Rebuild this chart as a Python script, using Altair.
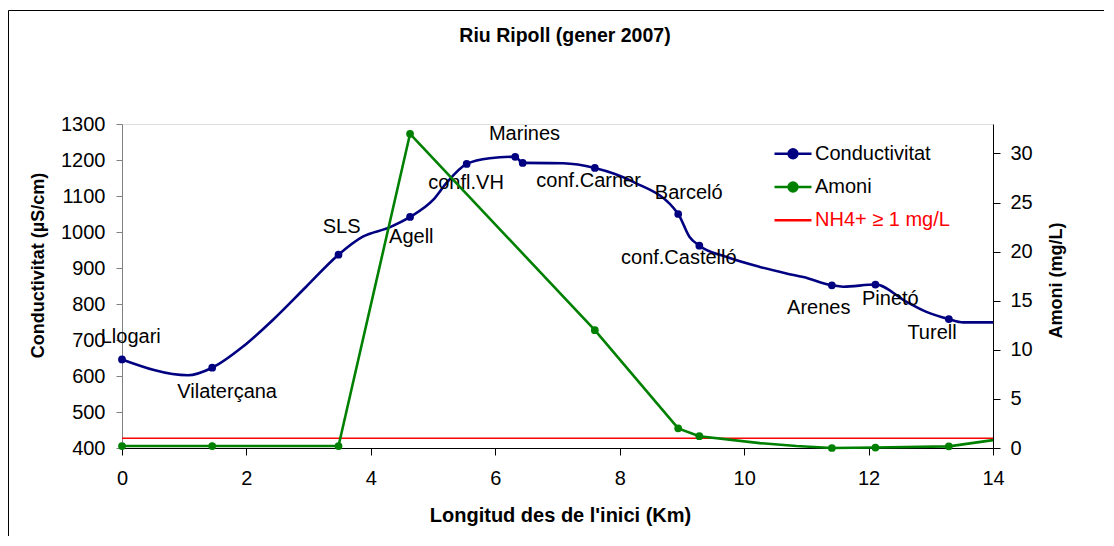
import altair as alt
import pandas as pd

# ---------------- data ----------------
# Conductivity curve (km from the source, µS/cm); marker flag = 1 where a dot is drawn
cond_km = [0.0, 1.06, 1.45, 1.94, 2.42, 2.96, 3.48, 3.87, 4.30, 4.63, 5.00, 5.21,
           5.54, 5.91, 6.32, 6.44, 7.09, 7.60, 8.21, 8.94, 9.12, 9.28, 9.71, 10.25,
           10.68, 10.95, 11.41, 11.59, 12.11, 12.61, 12.93, 13.29, 13.52, 14.0]
cond_val = [646, 602, 623, 681, 755, 848, 937, 987, 1013, 1042, 1089, 1135,
            1189, 1205, 1209, 1192, 1191, 1178, 1140, 1050, 987, 962, 931, 903,
            885, 875, 852, 848, 854, 806, 778, 758, 749, 749]
cond_marker = [1, 0, 1, 0, 0, 0, 1, 0, 0, 1, 0, 0,
               1, 0, 1, 1, 0, 1, 0, 1, 0, 1, 0, 0,
               0, 0, 1, 0, 1, 0, 0, 1, 0, 0]

# Ammonium (mg/L)
amoni_km = [0.0, 1.45, 3.48, 4.63, 7.60, 8.94, 9.28, 10.25, 10.84, 11.41, 12.11, 13.29, 14.0]
amoni_val = [0.2, 0.2, 0.2, 32.0, 12.0, 2.0, 1.2, 0.5, 0.2, 0.0, 0.05, 0.17, 0.8]
amoni_marker = [1, 1, 1, 1, 1, 1, 1, 0, 0, 1, 1, 1, 0]

# Threshold line
nh4_threshold = 1.0
km_range = [0.0, 14.0]

# Station labels (anchor in data units: km, µS/cm)
label_text = ["Llogari", "Vilaterçana", "SLS", "Agell", "confl.VH", "Marines",
              "conf.Carner", "Barceló", "conf.Castelló", "Arenes", "Pinetó", "Turell"]
label_km = [0.14, 1.69, 3.53, 4.65, 5.53, 6.47, 7.50, 9.11, 8.95, 11.20, 12.35, 13.02]
label_cond = [708, 556, 1014, 987, 1137, 1272, 1142, 1107, 927, 788, 815, 720]

# Legend series
series_names = ["Conductivitat", "Amoni", "NH4+ \u2265 1 mg/L"]
series_colors = ["#000080", "#008000", "#ff0000"]

# Axis ticks
x_ticks = [0, 2, 4, 6, 8, 10, 12, 14]
cond_ticks = [400, 500, 600, 700, 800, 900, 1000, 1100, 1200, 1300]
amoni_ticks = [0, 5, 10, 15, 20, 25, 30]

# ---------------- tables ----------------
cond_df = pd.DataFrame({"km": cond_km, "cond": cond_val, "marker": cond_marker})
amoni_df = pd.DataFrame({"km": amoni_km, "amoni": amoni_val, "marker": amoni_marker})
labels_df = pd.DataFrame({"km": label_km, "cond": label_cond, "text": label_text})
rule_df = pd.DataFrame({"km0": [km_range[0]], "km1": [km_range[1]], "nh4": [nh4_threshold]})
legend_df = pd.DataFrame({"series": series_names})

FONT = "Liberation Sans"
W, H = 871, 324
FS = 20

x_scale = alt.Scale(domain=[0, 14], nice=False, zero=False)
x_axis = alt.Axis(values=x_ticks, format="d", title="Longitud des de l'inici (Km)", grid=False,
                  domainColor="#000000", tickColor="#000000", tickSize=7,
                  labelPadding=13, labelFont=FONT, labelFontSize=FS, labelColor="black",
                  labelFlush=False, titleFont=FONT, titleFontSize=20, titleFontWeight="bold",
                  titleColor="black", titleBaseline="middle", titleX=438, titleY=67)

cond_scale = alt.Scale(domain=[400, 1300], nice=False, zero=False)
cond_axis = alt.Axis(values=cond_ticks, format="d", title="Conductivitat (\u00b5S/cm)", orient="left",
                     grid=False, domainColor="#808080", tickColor="#808080", tickSize=6,
                     labelPadding=11, labelFont=FONT, labelFontSize=FS, labelColor="black",
                     labelFlush=False, titleFont=FONT, titleFontSize=18, titleFontWeight="bold",
                     titleColor="black", titleAngle=270, titleBaseline="middle",
                     titleAlign="center", titleX=-84, titleY=141)

am_scale = alt.Scale(domain=[0, 33], nice=False, zero=True)
am_axis = alt.Axis(values=amoni_ticks, format="d", title="Amoni (mg/L)", orient="right",
                   grid=False, domainColor="#000000", tickColor="#000000", tickSize=7,
                   labelPadding=10, labelFont=FONT, labelFontSize=FS, labelColor="black",
                   labelFlush=False, titleFont=FONT, titleFontSize=18, titleFontWeight="bold",
                   titleColor="black", titleAngle=270, titleBaseline="middle",
                   titleAlign="center", titleX=63.5, titleY=156)

def X(field="km"):
    return alt.X(f"{field}:Q", scale=x_scale, axis=x_axis)

# ---------------- decorative outer frame ----------------
blank = alt.Data(values=[{}])
frame_left = alt.Chart(blank).mark_rule(color="black", strokeWidth=1).encode(
    x=alt.value(-113.5), y=alt.value(-113.5), y2=alt.value(412))
frame_top = alt.Chart(blank).mark_rule(color="black", strokeWidth=1).encode(
    x=alt.value(-113.5), x2=alt.value(982), y=alt.value(-113.5))

# ---------------- conductivity group ----------------
yc = alt.Y("cond:Q", scale=cond_scale, axis=cond_axis)
cond_line = alt.Chart(cond_df).mark_line(color="#000080", strokeWidth=2.6,
                                         interpolate="monotone").encode(x=X(), y=yc)
cond_pts = alt.Chart(cond_df).transform_filter("datum.marker == 1").mark_circle(
    color="#000080", size=60, opacity=1).encode(x=X(), y=yc)
labels = alt.Chart(labels_df).mark_text(font=FONT, fontSize=FS, color="black",
                                        align="center", baseline="middle").encode(
    x=X(), y=yc, text="text:N")
cond_group = alt.layer(frame_left, frame_top, cond_line, cond_pts, labels)

# ---------------- ammonium group ----------------
ya = alt.Y("amoni:Q", scale=am_scale, axis=am_axis)
rule = alt.Chart(rule_df).mark_rule(color="#ff0000", strokeWidth=1.5).encode(
    x=X("km0"), x2="km1:Q", y=alt.Y("nh4:Q", scale=am_scale, axis=am_axis))
amoni_line = alt.Chart(amoni_df).mark_line(color="#008000", strokeWidth=2.6).encode(x=X(), y=ya)
amoni_pts = alt.Chart(amoni_df).transform_filter("datum.marker == 1").mark_circle(
    color="#008000", size=60, opacity=1).encode(x=X(), y=ya)

dot_path = "M-1,0H1M-0.24,0A0.24,0.24,0,1,1,0.24,0A0.24,0.24,0,1,1,-0.24,0Z"
line_path = "M-1,0H1"
legend = alt.Legend(title=None, orient="none", legendX=651, legendY=9.7, padding=0,
                    rowPadding=3.3, labelFont=FONT, labelFontSize=FS, labelOffset=2,
                    labelColor={"expr": "datum.label === '" + series_names[2] + "' ? '#ff0000' : '#000000'"},
                    symbolSize=1369, symbolStrokeWidth=2.5, symbolOpacity=1)
ser_scale = alt.Scale(domain=series_names, range=series_colors)
shape_scale = alt.Scale(domain=series_names, range=[dot_path, dot_path, line_path])
legend_layer = alt.Chart(legend_df).mark_point(filled=True, opacity=0, size=1).encode(
    fill=alt.Fill("series:N", scale=ser_scale, legend=legend),
    stroke=alt.Stroke("series:N", scale=ser_scale, legend=legend),
    shape=alt.Shape("series:N", scale=shape_scale, legend=legend),
)
amoni_group = alt.layer(rule, amoni_line, amoni_pts, legend_layer)

chart = alt.layer(cond_group, amoni_group).resolve_scale(y="independent").properties(
    width=W, height=H,
    padding={"left": 0, "top": 2, "right": 0, "bottom": 0},
    title=alt.TitleParams("Riu Ripoll (gener 2007)", font=FONT, fontSize=19.5,
                          fontWeight="bold", color="black", frame="group",
                          anchor="middle", dx=7.5, baseline="alphabetic", offset=-51.3),
).configure_view(stroke="#a0a0a0", strokeWidth=1).configure(background="white")

chart.save("out.html", embed_options={"renderer": "svg", "actions": False})
